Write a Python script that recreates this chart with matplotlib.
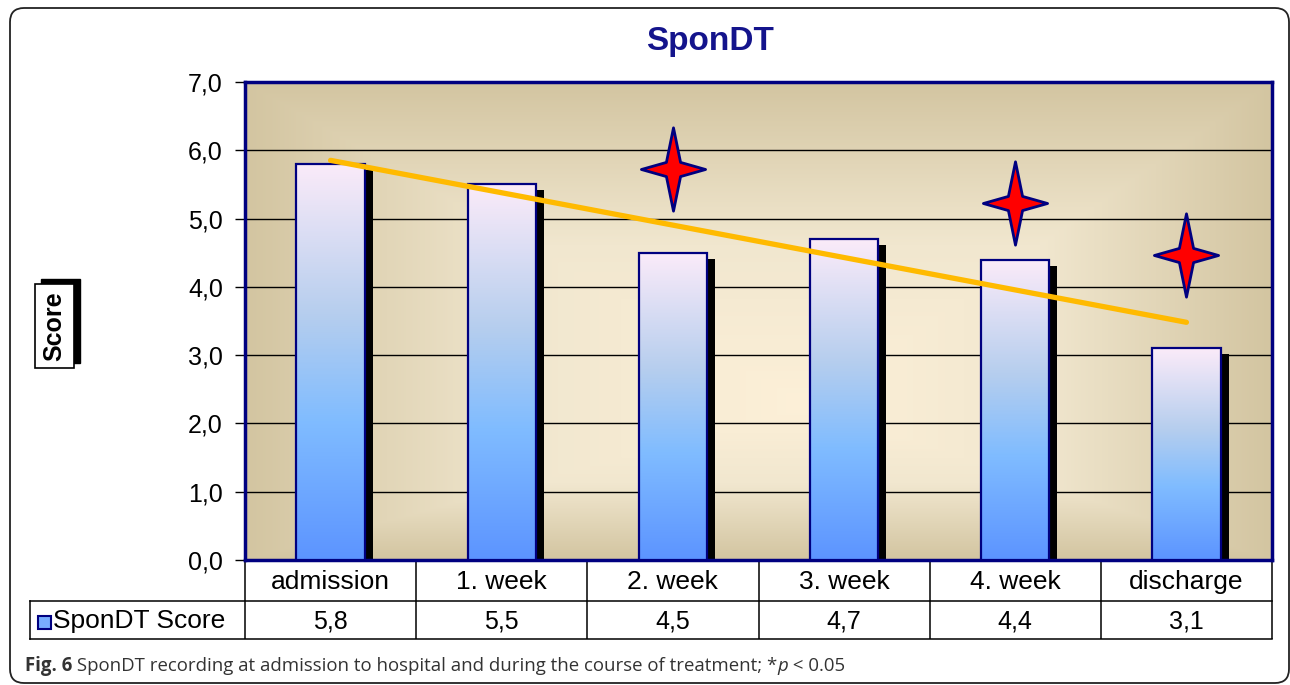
import numpy as np
import matplotlib
matplotlib.use("Agg")
from matplotlib import pyplot as plt
from matplotlib.colors import LinearSegmentedColormap
from matplotlib.patches import Rectangle, FancyBboxPatch
from matplotlib.path import Path
import matplotlib.transforms as mtransforms

plt.rcParams["font.family"] = ["Liberation Sans", "DejaVu Sans"]

# data
categories = ["admission", "1. week", "2. week", "3. week", "4. week", "discharge"]
scores = [5.8, 5.5, 4.5, 4.7, 4.4, 3.1]
series_name = "SponDT Score"
star_categories = ["2. week", "4. week", "discharge"]
star_levels = [5.72, 5.23, 4.46]
y_ticks = [0, 1, 2, 3, 4, 5, 6, 7]

W, H = 1290, 685
NAVY = "#000080"
AX_L, AX_R, AX_T, AX_B = 245, 1272, 82, 560


def fmt(v):
    return f"{v:.1f}".replace(".", ",")


def ay(py):
    # pixel row -> axes fraction (for things drawn below the plot)
    return (AX_B - py) / (AX_B - AX_T)


def axx(px):
    return (px - AX_L) / (AX_R - AX_L)


fig = plt.figure(figsize=(W / 100, H / 100), dpi=100)
fig.patch.set_facecolor("white")

ax = fig.add_axes([AX_L / W, 1 - AX_B / H, (AX_R - AX_L) / W, (AX_B - AX_T) / H])

# background gradient, light centre fading to beige at the edges
gx, gy = np.meshgrid(np.linspace(0, 1, 400), np.linspace(0, 1, 300))
cx, cy = 0.55, 0.32
u = np.where(gx < cx, (cx - gx) / cx, (gx - cx) / (1 - cx))
v = np.where(gy < cy, (cy - gy) / cy, (gy - cy) / (1 - cy))
d = np.clip(np.maximum(u, v), 0, 1)
bg_cmap = LinearSegmentedColormap.from_list("bg", ["#FDF0D8", "#F1E7CF", "#D3C5A1"])
ax.imshow(d, cmap=bg_cmap, extent=[0, 1, 0, 1], transform=ax.transAxes,
          aspect="auto", origin="lower", zorder=0, vmin=0, vmax=1)

x = np.arange(len(categories))
bw = 0.4

# shadows
shadow_tr = ax.transData + mtransforms.ScaledTranslation(8 / 100, -6 / 100, fig.dpi_scale_trans)
for xi, s in zip(x, scores):
    ax.add_patch(Rectangle((xi - bw / 2, 0), bw, s, transform=shadow_tr,
                           facecolor="black", edgecolor="none", zorder=2))

bars = ax.bar(x, scores, width=bw, facecolor="none", edgecolor=NAVY,
              linewidth=1.6, zorder=4)
bar_cmap = LinearSegmentedColormap.from_list(
    "bar", [(0, "#5C94FF"), (0.35, "#80BCFF"), (0.62, "#B6CEEE"), (1, "#FBEBF9")])
grad = np.linspace(0, 1, 256).reshape(-1, 1)
for bar in bars:
    x0 = bar.get_x()
    im = ax.imshow(grad, cmap=bar_cmap, extent=[x0, x0 + bar.get_width(), 0, bar.get_height()],
                   aspect="auto", origin="lower", zorder=3)
    im.set_clip_path(bar)

# linear trend
coef = np.polyfit(x, scores, 1)
ax.plot([x[0], x[-1]], np.polyval(coef, [x[0], x[-1]]), color="#FFBA00",
        linewidth=3.8, solid_capstyle="round", zorder=5)

# significance stars
verts = [(0, 1), (0.17, 0.17), (0.77, 0), (0.17, -0.17), (0, -1),
         (-0.17, -0.17), (-0.77, 0), (-0.17, 0.17), (0, 1)]
codes = [Path.MOVETO] + [Path.LINETO] * 7 + [Path.CLOSEPOLY]
star = Path(verts, codes)
star_x = [categories.index(c) for c in star_categories]
ax.plot(star_x, star_levels, linestyle="none", marker=star, markersize=60,
        markerfacecolor="#FF0000", markeredgecolor=NAVY, markeredgewidth=2, zorder=6)

ax.set_xlim(-0.5, len(categories) - 0.5)
ax.set_ylim(0, 7)
ax.set_yticks(y_ticks)
ax.set_yticklabels([fmt(t) for t in y_ticks])
ax.set_xticks([])
ax.tick_params(axis="y", length=7, width=1, color="black", pad=9, labelsize=18)
ax.yaxis.grid(True, color="black", linewidth=1.0)
ax.set_axisbelow(True)
for sp in ax.spines.values():
    sp.set_color(NAVY)
    sp.set_linewidth(2.5)

# data table under the chart
xt = ax.get_xaxis_transform()
for xi, cat, s in zip(x, categories, scores):
    ax.text(xi, ay(589), cat, transform=xt, ha="center", va="baseline", fontsize=19, clip_on=False)
    ax.text(xi, ay(628), fmt(s), transform=xt, ha="center", va="baseline", fontsize=18, clip_on=False)
line_kw = dict(color="black", linewidth=1.1, clip_on=False)
ax.vlines(np.arange(len(categories) + 1) - 0.5, ay(639), 0, transform=xt, **line_kw)
ax.plot([axx(30), 1], [ay(601), ay(601)], transform=ax.transAxes, **line_kw)
ax.plot([axx(30), 1], [ay(639), ay(639)], transform=ax.transAxes, **line_kw)
ax.plot([axx(30), axx(30)], [ay(601), ay(639)], transform=ax.transAxes, **line_kw)

# overlay in pixel coordinates for frame, title, labels and caption
ov = fig.add_axes([0, 0, 1, 1], zorder=10)
ov.set_xlim(0, W)
ov.set_ylim(H, 0)
ov.axis("off")
ov.set_facecolor("none")

ov.add_patch(FancyBboxPatch((10, 8), 1279, 675, boxstyle="round,pad=0,rounding_size=14",
                            facecolor="none", edgecolor="#222222", linewidth=1.3))
ov.text(710, 41, "SponDT", ha="center", va="center", fontsize=24,
        fontweight="bold", color="#14148C")

# legend key + series name
ov.add_patch(Rectangle((38, 616), 13, 13, facecolor="#78AEFF", edgecolor=NAVY, linewidth=1.5))
ov.text(53, 628, series_name, ha="left", va="baseline", fontsize=19)

# y label in a box with a drop shadow
ylab = ov.text(54, 326, "Score", rotation=90, ha="center", va="center", fontsize=18,
               fontweight="bold", color="black", zorder=3,
               bbox=dict(boxstyle="square,pad=0.3", facecolor="white", edgecolor="black", linewidth=1.2))
renderer = fig.canvas.get_renderer()
ylab.draw(renderer)
bb = ylab.get_bbox_patch().get_window_extent(renderer)
(px0, py0), (px1, py1) = ov.transData.inverted().transform([[bb.x0, bb.y0], [bb.x1, bb.y1]])
ov.add_patch(Rectangle((min(px0, px1) + 6, min(py0, py1) - 5), abs(px1 - px0), abs(py1 - py0),
                       facecolor="black", edgecolor="black", zorder=2))

# caption
pieces = [("Fig. 6", "bold", "normal"),
          (" SponDT recording at admission to hospital and during the course of treatment; *", "normal", "normal"),
          ("p", "normal", "italic"),
          (" < 0.05", "normal", "normal")]
cx_px = 25
for txt, weight, style in pieces:
    t = ov.text(cx_px, 666, txt, ha="left", va="center", fontsize=13.4,
                family="Open Sans", fontweight=weight, fontstyle=style, color="#333333")
    tb = t.get_window_extent(renderer)
    cx_px += tb.width * W / fig.bbox.width

fig.savefig("out.png", dpi=100)
